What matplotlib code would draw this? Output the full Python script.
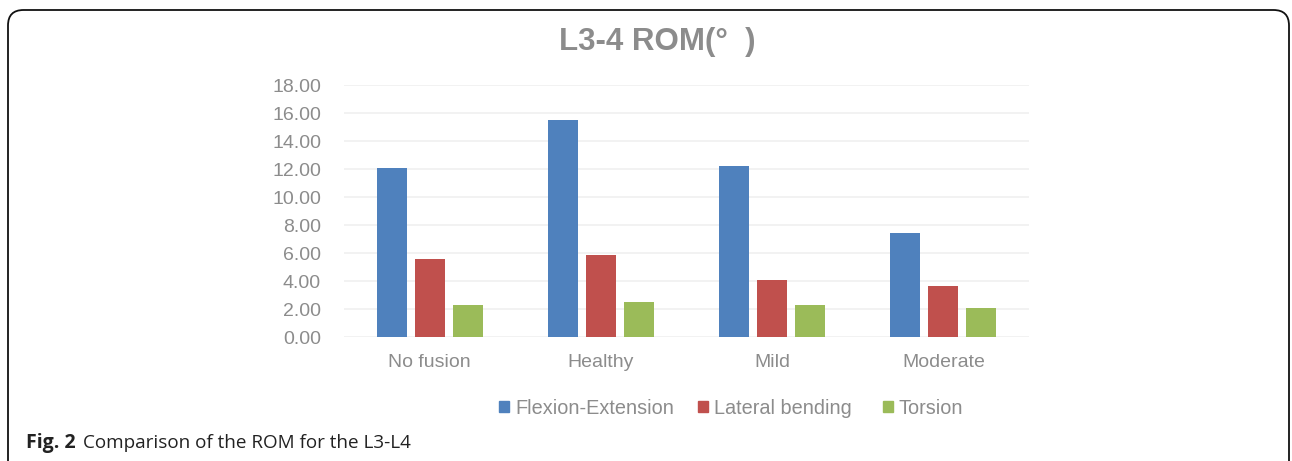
import matplotlib
matplotlib.use("Agg")
import matplotlib.pyplot as plt
import numpy as np
from matplotlib.patches import FancyBboxPatch, Patch

# values
categories = ["No fusion", "Healthy", "Mild", "Moderate"]
flexion_extension = [12.05, 15.52, 12.19, 7.43]
lateral_bending = [5.59, 5.86, 4.07, 3.64]
torsion = [2.29, 2.50, 2.26, 2.07]
series_names = ["Flexion-Extension", "Lateral bending", "Torsion"]
colors = ["#4F81BD", "#C0504D", "#9BBB59"]
yticks = np.arange(0, 18.01, 2)

plt.rcParams["font.family"] = ["Liberation Sans", "DejaVu Sans"]
grey = "#8C8C8C"

fig = plt.figure(figsize=(12.92, 4.61), dpi=100)
ax = fig.add_axes([344 / 1292, 1 - 337 / 461, 685 / 1292, 252 / 461])

x = np.arange(len(categories))
width = 0.175
step = 0.222
for i, vals in enumerate([flexion_extension, lateral_bending, torsion]):
    ax.bar(x + (i - 1) * step, vals, width, color=colors[i], zorder=3)

ax.set_xlim(-0.5, len(categories) - 0.5)
ax.set_ylim(0, 18)
ax.set_yticks(yticks)
ax.set_yticklabels([f"{v:.2f}" for v in yticks])
ax.set_xticks(x)
ax.set_xticklabels(categories)
ax.tick_params(axis="both", length=0, labelsize=14, colors=grey)
ax.tick_params(axis="y", pad=16.5)
ax.tick_params(axis="x", pad=12)
ax.grid(axis="y", color="#F0F0F0", linewidth=1.2, zorder=0)
for s in ax.spines.values():
    s.set_visible(False)

fig.text(0.5085, 1 - 42 / 461, "L3-4 ROM(°  )", ha="center", va="center",
         fontsize=22.5, fontweight="bold", color=grey)

# legend entries sit at uneven spacing, so place each one separately
for name, c, x0 in zip(series_names, colors, [499, 698, 883]):
    leg = fig.legend(handles=[Patch(color=c)], labels=[name], loc="center left",
                     bbox_to_anchor=(x0 / 1292, 1 - 408 / 461), frameon=False,
                     fontsize=14.3, handlelength=0.5, handleheight=0.5,
                     handletextpad=0.3, borderpad=0, borderaxespad=0)
    for t in leg.get_texts():
        t.set_color(grey)

# caption
fig.text(26 / 1292, 1 - 443 / 461, "Fig. 2", ha="left", va="center", fontsize=14,
         fontweight="bold", family="Open Sans", color="#222222")
fig.text(83 / 1292, 1 - 443 / 461, "Comparison of the ROM for the L3-L4", ha="left",
         va="center", fontsize=13.6, family="Open Sans", color="#222222")

# rounded border around the figure panel
box = FancyBboxPatch((8 / 1292, -0.1), 1281 / 1292, 1.1 - 10 / 461,
                     boxstyle="round,pad=0,rounding_size=0.012",
                     transform=fig.transFigure, fill=False, edgecolor="#111111",
                     linewidth=1.3, mutation_aspect=1292 / 461)
fig.patches.append(box)

fig.savefig("out.png", dpi=100)
